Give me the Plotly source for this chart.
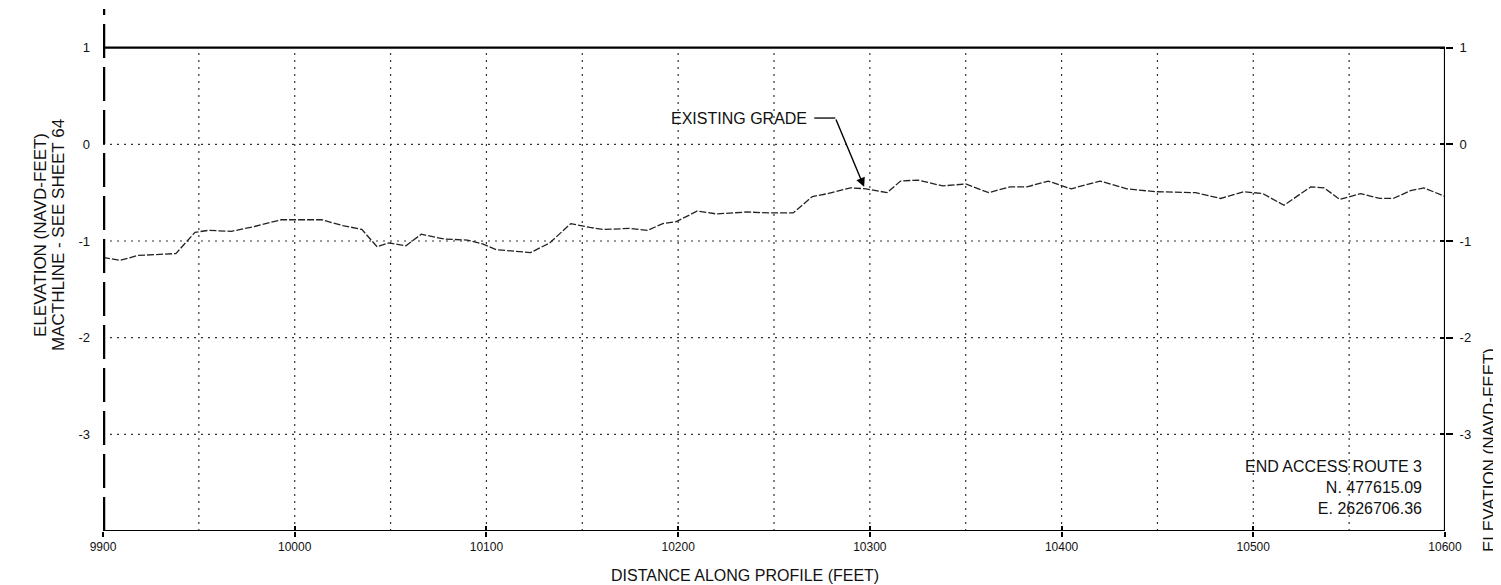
import plotly.graph_objects as go

# ---- data ----
dist = [9900, 9909, 9918, 9938, 9948, 9955, 9967, 9979, 9993, 10014, 10025, 10035, 10043, 10049,
        10058, 10066, 10078, 10090, 10098, 10105, 10123, 10133, 10144, 10154, 10161, 10175, 10184,
        10192, 10199, 10210, 10220, 10236, 10248, 10260, 10270, 10278, 10290, 10298, 10309, 10316,
        10325, 10338, 10350, 10362, 10373, 10382, 10393, 10405, 10420, 10434, 10449, 10470, 10483,
        10495, 10505, 10516, 10530, 10537, 10545, 10556, 10566, 10573, 10582, 10589, 10600]
elev = [-1.17, -1.20, -1.15, -1.13, -0.91, -0.89, -0.90, -0.85, -0.78, -0.78, -0.84, -0.88, -1.06, -1.02,
        -1.05, -0.93, -0.98, -0.99, -1.03, -1.09, -1.12, -1.02, -0.82, -0.86, -0.88, -0.87, -0.89,
        -0.82, -0.80, -0.69, -0.72, -0.70, -0.71, -0.71, -0.54, -0.51, -0.45, -0.46, -0.50, -0.38,
        -0.37, -0.43, -0.41, -0.50, -0.44, -0.44, -0.38, -0.46, -0.38, -0.46, -0.49, -0.50, -0.56,
        -0.49, -0.51, -0.63, -0.44, -0.45, -0.57, -0.51, -0.56, -0.56, -0.48, -0.45, -0.54]

x_ticks = [9900, 10000, 10100, 10200, 10300, 10400, 10500, 10600]
x_grid = [9950, 10000, 10050, 10100, 10150, 10200, 10250, 10300, 10350, 10400, 10450, 10500, 10550]
y_ticks = [1, 0, -1, -2, -3]
y_grid = [0, -1, -2, -3]

X_MIN, X_MAX = 9900, 10600
Y_MIN, Y_TOP, Y_MAX = -4.0, 1.0, 1.4

callout_text = "EXISTING GRADE"
callout_target = (10297, -0.44)
end_text = ["END ACCESS ROUTE 3", "N. 477615.09", "E. 2626706.36"]
left_title_1 = "ELEVATION (NAVD-FEET)"
left_title_2 = "MACTHLINE - SEE SHEET 64"
right_title = "ELEVATION (NAVD-FEET)"
x_title = "DISTANCE ALONG PROFILE (FEET)"

FONT = "Arial, Liberation Sans, sans-serif"
TXT = "#111"

# plot area in page pixels (page has an 8px body margin)
PL, PR, PT, PB = 103, 1445, 9, 531
def px(xp):
    return (xp - PL) / (PR - PL)
def py(yp):
    return 1 - (yp - PT) / (PB - PT)

fig = go.Figure()
fig.add_trace(go.Scatter(x=dist, y=elev, mode="lines",
                         line=dict(color="#222", width=1.3, dash="7px,2px"),
                         showlegend=False, hoverinfo="skip"))
# invisible anchors so the extra tick axes are drawn
fig.add_trace(go.Scatter(x=[X_MIN], y=[Y_MIN], yaxis="y2", mode="markers",
                         marker=dict(opacity=0), showlegend=False, hoverinfo="skip"))
fig.add_trace(go.Scatter(x=[X_MIN], y=[Y_MIN], yaxis="y3", xaxis="x2", mode="markers",
                         marker=dict(opacity=0), showlegend=False, hoverinfo="skip"))

shapes = []
for gx in x_grid:
    shapes.append(dict(type="line", xref="x", yref="y", x0=gx, x1=gx, y0=Y_MIN, y1=Y_TOP,
                       line=dict(color="#333", width=1.2, dash="2px,5px"), layer="below"))
for gy in y_grid:
    shapes.append(dict(type="line", xref="x", yref="y", x0=X_MIN, x1=X_MAX, y0=gy, y1=gy,
                       line=dict(color="#333", width=1.2, dash="2px,5px"), layer="below"))
shapes.append(dict(type="line", xref="x", yref="y", x0=X_MIN, x1=X_MAX, y0=Y_TOP, y1=Y_TOP,
                   line=dict(color="black", width=2.2)))
shapes.append(dict(type="line", xref="x", yref="y", x0=X_MIN, x1=X_MAX, y0=Y_MIN, y1=Y_MIN,
                   line=dict(color="black", width=2.2)))
shapes.append(dict(type="line", xref="x", yref="y", x0=X_MAX, x1=X_MAX, y0=Y_MIN, y1=Y_TOP,
                   line=dict(color="black", width=2.2)))
shapes.append(dict(type="line", xref="x", yref="y", x0=X_MIN, x1=X_MIN, y0=Y_MIN, y1=Y_MAX,
                   line=dict(color="black", width=4.5, dash="34px,9px")))
shapes.append(dict(type="line", xref="x", yref="y", x0=10271, x1=10282, y0=0.272, y1=0.272,
                   line=dict(color="black", width=1.3)))

annotations = [
    dict(x=callout_target[0], y=callout_target[1], xref="x", yref="y",
         ax=10282, ay=0.272, axref="x", ayref="y", text="", showarrow=True,
         arrowhead=2, arrowsize=1.3, arrowwidth=1.4, arrowcolor="black"),
    dict(x=10268, y=0.272, xref="x", yref="y", text=callout_text, showarrow=False,
         xanchor="right", yanchor="middle", font=dict(family=FONT, size=16, color=TXT)),
    dict(x=10589, y=-3.555, xref="x", yref="y", text="<br>".join(end_text), showarrow=False,
         xanchor="right", yanchor="middle", align="right",
         font=dict(family=FONT, size=16, color=TXT)),
    dict(x=px(745), y=py(575), xref="paper", yref="paper", text=x_title, showarrow=False,
         xanchor="center", yanchor="middle", font=dict(family=FONT, size=16, color=TXT)),
    dict(x=px(40), y=py(235), xref="paper", yref="paper", text=left_title_1, showarrow=False,
         textangle=-90, xanchor="center", yanchor="middle",
         font=dict(family=FONT, size=17, color=TXT)),
    dict(x=px(58), y=py(235), xref="paper", yref="paper", text=left_title_2, showarrow=False,
         textangle=-90, xanchor="center", yanchor="middle",
         font=dict(family=FONT, size=17, color=TXT)),
    dict(x=px(1489), y=py(450), xref="paper", yref="paper", text=right_title, showarrow=False,
         textangle=-90, xanchor="center", yanchor="middle",
         font=dict(family=FONT, size=17, color=TXT)),
]

fig.update_layout(
    width=1493, height=577,
    margin=dict(l=95, r=56, t=1, b=54, autoexpand=False),
    paper_bgcolor="white", plot_bgcolor="white",
    font=dict(family=FONT, color=TXT),
    shapes=shapes, annotations=annotations,
    xaxis=dict(range=[X_MIN, X_MAX], tickvals=x_ticks, ticktext=[str(v) for v in x_ticks],
               showgrid=False, zeroline=False, showline=False,
               ticks="outside", ticklen=5, tickwidth=1.5, tickcolor="black",
               tickfont=dict(size=12, family=FONT)),
    xaxis2=dict(range=[X_MIN, X_MAX], overlaying="x", anchor="y", tickvals=x_ticks[1:-1],
                showticklabels=False, showgrid=False, zeroline=False, showline=False,
                ticks="inside", ticklen=5, tickwidth=1.5, tickcolor="black", side="bottom"),
    yaxis=dict(range=[Y_MIN, Y_MAX], tickvals=y_ticks, ticktext=[str(v) for v in y_ticks],
               showgrid=False, zeroline=False, showline=False, ticks="",
               ticklabelstandoff=12, tickfont=dict(size=13, family=FONT)),
    yaxis2=dict(range=[Y_MIN, Y_MAX], overlaying="y", side="right", anchor="x",
                tickvals=y_ticks, ticktext=[str(v) for v in y_ticks],
                showgrid=False, zeroline=False, showline=False,
                ticks="outside", ticklen=7, tickwidth=2, tickcolor="black",
                ticklabelstandoff=4, tickfont=dict(size=13, family=FONT)),
    yaxis3=dict(range=[Y_MIN, Y_MAX], overlaying="y", side="right", anchor="x2",
                tickvals=y_ticks, showticklabels=False,
                showgrid=False, zeroline=False, showline=False,
                ticks="inside", ticklen=5, tickwidth=2, tickcolor="black"),
)

fig.write_html("out.html")
